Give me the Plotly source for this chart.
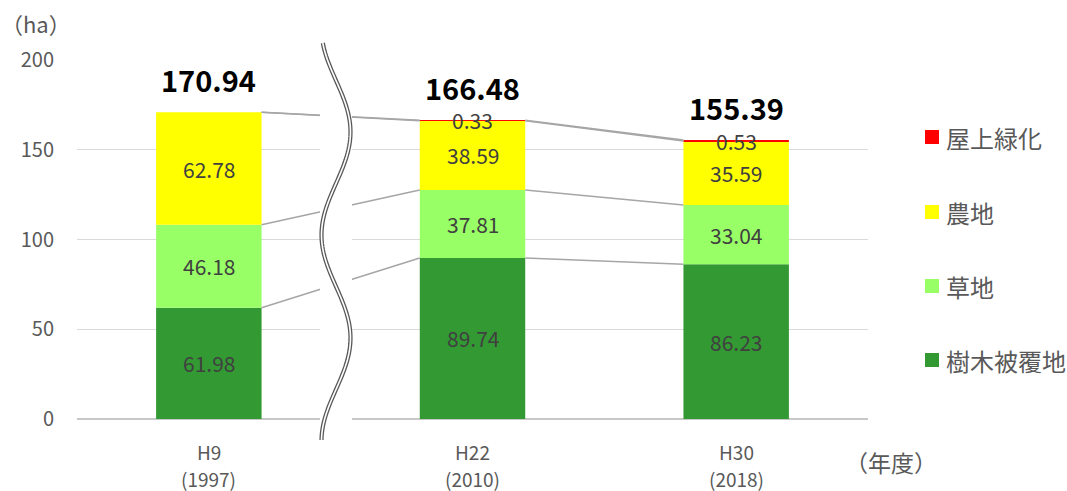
import numpy as np
import plotly.graph_objects as go

# ---- data -------------------------------------------------------------
era_labels = ["H9", "H22", "H30"]
ad_labels = ["(1997)", "(2010)", "(2018)"]
trees = [61.98, 89.74, 86.23]      # 樹木被覆地
grass = [46.18, 37.81, 33.04]      # 草地
farm = [62.78, 38.59, 35.59]       # 農地
roof = [None, 0.33, 0.53]          # 屋上緑化
totals = [170.94, 166.48, 155.39]  # 合計
y_ticks = [0, 50, 100, 150, 200]

series = [
    ("樹木被覆地", trees, "#339933"),
    ("草地", grass, "#99ff66"),
    ("農地", farm, "#ffff00"),
    ("屋上緑化", roof, "#ff0000"),
]

FONT = "Noto Sans CJK JP"
BAR_W = 0.4
xs = list(range(len(era_labels)))

fig = go.Figure()

annotations = []
bases = [0.0] * len(xs)
levels = []
for name, vals, color in series:
    v = [0.0 if a is None else a for a in vals]
    fig.add_trace(go.Bar(
        x=xs, y=v, base=bases[:], name=name, width=BAR_W,
        marker=dict(color=color, line=dict(width=0)),
        showlegend=False, hoverinfo="skip",
    ))
    for i, a in enumerate(vals):
        if a is None:
            continue
        annotations.append(dict(
            x=i, y=bases[i] + a / 2, xref="x", yref="y", text=f"{a:.2f}",
            showarrow=False, font=dict(family=FONT, size=21, color="#404040"),
        ))
    bases = [b + a for b, a in zip(bases, v)]
    levels.append(bases[:])

# series lines joining the top of each segment between neighbouring bars
for lv in levels:
    lx, ly = [], []
    for i in range(len(xs) - 1):
        lx += [i + BAR_W / 2, i + 1 - BAR_W / 2, None]
        ly += [lv[i], lv[i + 1], None]
    fig.add_trace(go.Scatter(
        x=lx, y=ly, mode="lines", line=dict(color="#a6a6a6", width=1.5),
        showlegend=False, hoverinfo="skip",
    ))

# totals above each bar
for i, t in enumerate(totals):
    annotations.append(dict(
        x=i, y=levels[-1][i], xref="x", yref="y", text=f"<b>{t:.2f}</b>",
        showarrow=False, yanchor="bottom", yshift=10,
        font=dict(family=FONT, size=29, color="#000000"),
    ))

# ---- layout geometry (pixels) ----------------------------------------
W, H = 1067, 491
L, R, T, B = 77, 199, 60, 72
PW, PH = W - L - R, H - T - B


def px(xp):
    return (xp - L) / PW


def py(yp):
    return (H - B - yp) / PH


# category labels: era name and western year on two lines
for i, (era, ad) in enumerate(zip(era_labels, ad_labels)):
    for text, yy in ((era, 451), (ad, 478)):
        annotations.append(dict(
            x=i, y=py(yy), xref="x", yref="paper", text=text,
            showarrow=False, yanchor="middle",
            font=dict(family=FONT, size=19, color="#595959"),
        ))

# axis break: white band with a wavy double line
shapes = [dict(
    type="rect", xref="paper", yref="paper",
    x0=px(320), x1=px(352), y0=py(425), y1=py(52),
    fillcolor="white", line=dict(width=0), layer="above",
)]
wy = np.linspace(43, 440, 120)
wx = 336 - 14.5 * np.cos(2 * np.pi * (wy - 235) / 206)
path = "M " + " L ".join(f"{px(a):.5f},{py(b):.5f}" for a, b in zip(wx, wy))
shapes.append(dict(type="path", xref="paper", yref="paper", path=path,
                   line=dict(color="#595959", width=4.2), layer="above"))
shapes.append(dict(type="path", xref="paper", yref="paper", path=path,
                   line=dict(color="white", width=1.6), layer="above"))

# legend (top to bottom: 屋上緑化, 農地, 草地, 樹木被覆地)
legend_y = [137, 212, 286, 360]
for (name, _, color), yy in zip(reversed(series), legend_y):
    shapes.append(dict(
        type="rect", xref="paper", yref="paper",
        x0=px(925), x1=px(939), y0=py(yy + 7), y1=py(yy - 7),
        fillcolor=color, line=dict(width=0),
    ))
    annotations.append(dict(
        x=px(944), y=py(yy), xref="paper", yref="paper", text=name,
        showarrow=False, xanchor="left", yanchor="middle",
        font=dict(family=FONT, size=24, color="#595959"),
    ))

annotations.append(dict(
    x=px(-1), y=py(23), xref="paper", yref="paper", text="（ha）",
    showarrow=False, xanchor="left", yanchor="middle",
    font=dict(family=FONT, size=22, color="#595959"),
))
annotations.append(dict(
    x=px(843), y=py(462), xref="paper", yref="paper", text="（年度）",
    showarrow=False, xanchor="left", yanchor="middle",
    font=dict(family=FONT, size=23, color="#595959"),
))

fig.update_layout(
    width=W, height=H,
    margin=dict(l=L, r=R, t=T, b=B, pad=0, autoexpand=False),
    paper_bgcolor="white", plot_bgcolor="white",
    barmode="overlay",
    showlegend=False,
    font=dict(family=FONT, color="#595959"),
    annotations=annotations,
    shapes=shapes,
    xaxis=dict(
        range=[-0.5, len(xs) - 0.5], tickvals=xs, showticklabels=False,
        showgrid=False, zeroline=False, showline=False, ticks="",
        automargin=False, fixedrange=True,
    ),
    yaxis=dict(
        range=[0, 200], tickvals=y_ticks, showgrid=True,
        gridcolor="#d9d9d9", gridwidth=1,
        zeroline=True, zerolinecolor="#c8c8c8", zerolinewidth=1.5,
        showline=False, ticks="",
        tickfont=dict(family=FONT, size=20, color="#595959"),
        ticklabelstandoff=22, automargin=False, fixedrange=True,
    ),
)

fig.write_html("out.html")
